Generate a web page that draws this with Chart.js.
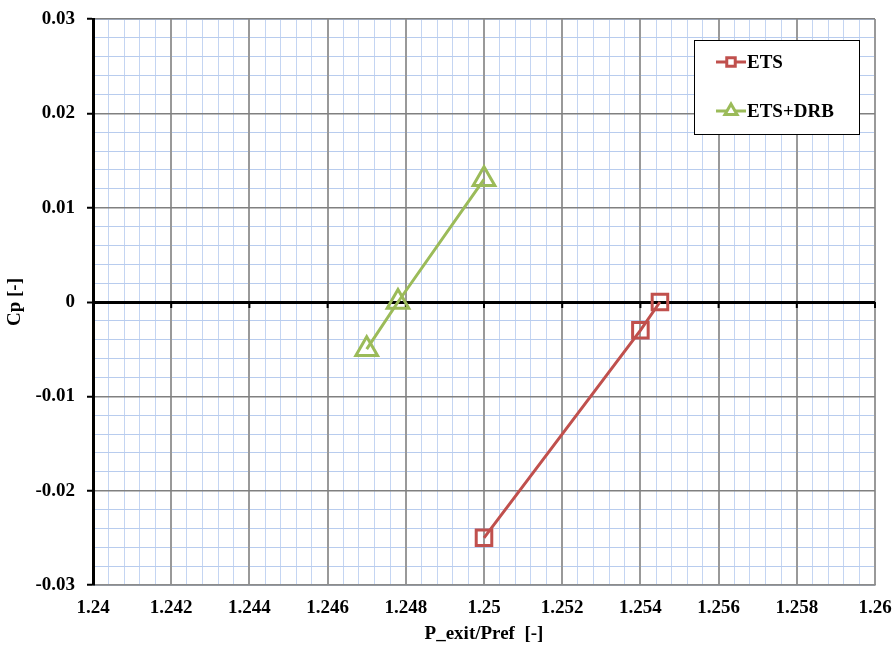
<!DOCTYPE html>
<html>
<head>
<meta charset="utf-8">
<script src="https://cdn.jsdelivr.net/npm/chart.js@4/dist/chart.umd.min.js"></script>
<style>
  html, body { margin: 0; padding: 0; background: #fff; }
  #wrap { width: 893px; height: 647px; }
</style>
</head>
<body>
<div id="wrap"><canvas id="c" width="893" height="647"></canvas></div>
<script>
// Pressure ratio vs. pressure coefficient
const etsX = [1.25, 1.254, 1.2545];
const etsCp = [-0.025, -0.003, 0.0];
const drbX = [1.247, 1.2478, 1.25];
const drbCp = [-0.005, 0.0, 0.013];

const seriesNames = ['ETS', 'ETS+DRB'];
const xMajorTicks = [1.24, 1.242, 1.244, 1.246, 1.248, 1.25, 1.252, 1.254, 1.256, 1.258, 1.26];
const yMajorTicks = [-0.03, -0.02, -0.01, 0, 0.01, 0.02, 0.03];
const xMinorStep = 0.0004;
const yMinorStep = 0.002;

const X_MIN = 1.24, X_MAX = 1.26, Y_MIN = -0.03, Y_MAX = 0.03;
const RED = '#C0504D';
const GREEN = '#9BBB59';
const FONT = 'Liberation Serif, Times New Roman, serif';

function fmt(v) { return String(Number(v.toFixed(4))); }
function minorTicks(min, max, step) {
  const out = [];
  const n = Math.round((max - min) / step);
  for (let i = 0; i <= n; i++) out.push({ value: min + i * step });
  return out;
}

const pairs = (xs, ys) => xs.map((x, i) => ({ x, y: ys[i] }));

// Small tick marks hanging below the zero line at each major x value
const zeroTicks = {
  id: 'zeroTicks',
  beforeDatasetsDraw(chart) {
    const { ctx } = chart;
    const x = chart.scales.x, y = chart.scales.y;
    const y0 = y.getPixelForValue(0);
    ctx.save();
    ctx.strokeStyle = '#000';
    ctx.lineWidth = 2;
    xMajorTicks.forEach(v => {
      const px = x.getPixelForValue(v);
      ctx.beginPath();
      ctx.moveTo(px, y0);
      ctx.lineTo(px, y0 + 6);
      ctx.stroke();
    });
    ctx.restore();
  }
};

// Boxed legend inside the plot, upper right
const boxLegend = {
  id: 'boxLegend',
  afterDatasetsDraw(chart) {
    const { ctx } = chart;
    const bx = 694, by = 40, bw = 165, bh = 94;
    ctx.save();
    ctx.fillStyle = '#fff';
    ctx.fillRect(bx, by, bw, bh);
    ctx.strokeStyle = '#000';
    ctx.lineWidth = 1;
    ctx.strokeRect(bx + 0.5, by + 0.5, bw, bh);
    const items = [
      { label: seriesNames[0], color: RED, style: 'rect', y: by + 22 },
      { label: seriesNames[1], color: GREEN, style: 'triangle', y: by + 71 }
    ];
    items.forEach(it => {
      ctx.strokeStyle = it.color;
      ctx.lineWidth = 3;
      ctx.beginPath();
      ctx.moveTo(bx + 22, it.y);
      ctx.lineTo(bx + 52, it.y);
      ctx.stroke();
      ctx.fillStyle = '#fff';
      ctx.lineWidth = 3;
      Chart.helpers.drawPoint(ctx, { pointStyle: it.style, radius: it.style === 'rect' ? 6 : 7, borderWidth: 3 }, bx + 37, it.y);
      ctx.fillStyle = '#000';
      ctx.font = 'bold 19px ' + FONT;
      ctx.textBaseline = 'middle';
      ctx.textAlign = 'left';
      ctx.fillText(it.label, bx + 53, it.y + 1);
    });
    ctx.restore();
  }
};

new Chart(document.getElementById('c'), {
  type: 'scatter',
  data: {
    datasets: [
      {
        label: seriesNames[0],
        data: pairs(etsX, etsCp),
        showLine: true,
        borderColor: RED,
        borderWidth: 3,
        pointStyle: 'rect',
        pointRadius: 11,
        pointBorderWidth: 3,
        pointBorderColor: RED,
        pointBackgroundColor: 'rgba(0,0,0,0)',
        xAxisID: 'x', yAxisID: 'y'
      },
      {
        label: seriesNames[1],
        data: pairs(drbX, drbCp),
        showLine: true,
        borderColor: GREEN,
        borderWidth: 3,
        pointStyle: 'triangle',
        pointRadius: 12.5,
        pointBorderWidth: 3,
        pointBorderColor: GREEN,
        pointBackgroundColor: 'rgba(0,0,0,0)',
        xAxisID: 'x', yAxisID: 'y'
      }
    ]
  },
  options: {
    responsive: false,
    animation: false,
    events: [],
    layout: { padding: { top: 19, right: 18, left: 0, bottom: 0 } },
    plugins: { legend: { display: false }, tooltip: { enabled: false } },
    scales: {
      xm: {
        type: 'linear', position: 'bottom', min: X_MIN, max: X_MAX, z: -1,
        afterBuildTicks: s => { s.ticks = minorTicks(X_MIN, X_MAX, xMinorStep); },
        afterFit: s => { s.height = 0; s.paddingLeft = 0; s.paddingRight = 0; },
        ticks: { display: false },
        border: { display: false },
        grid: { color: '#C4D5F2', lineWidth: 1, drawTicks: false, borderDash: [1, 2] }
      },
      ym: {
        type: 'linear', position: 'left', min: Y_MIN, max: Y_MAX, z: -1,
        afterBuildTicks: s => { s.ticks = minorTicks(Y_MIN, Y_MAX, yMinorStep); },
        afterFit: s => { s.width = 0; s.paddingTop = 0; s.paddingBottom = 0; },
        ticks: { display: false },
        border: { display: false },
        grid: { color: '#B8CCEE', lineWidth: 1, drawTicks: false }
      },
      x: {
        type: 'linear', position: 'bottom', min: X_MIN, max: X_MAX, z: 0,
        afterBuildTicks: s => { s.ticks = xMajorTicks.map(v => ({ value: v })); },
        afterFit: s => { s.height = 62; s.paddingLeft = 0; s.paddingRight = 0; },
        ticks: {
          callback: v => fmt(v),
          font: { family: FONT, size: 19, weight: 'bold' },
          color: '#000', padding: 12, maxRotation: 0, autoSkip: false
        },
        border: { display: true, color: '#8C8C8C', width: 1.5 },
        grid: { color: '#999999', lineWidth: 2, drawTicks: false },
        title: {
          display: true, text: 'P_exit/Pref  [-]', color: '#000',
          font: { family: FONT, size: 19, weight: 'bold' },
          padding: { top: 0, bottom: 2 }
        }
      },
      y: {
        type: 'linear', position: 'left', min: Y_MIN, max: Y_MAX, z: 0,
        afterBuildTicks: s => { s.ticks = yMajorTicks.map(v => ({ value: v })); },
        afterFit: s => { s.width = 93; s.paddingTop = 0; s.paddingBottom = 0; },
        ticks: {
          callback: v => fmt(v),
          font: { family: FONT, size: 19, weight: 'bold' },
          color: '#000', padding: 12
        },
        border: { display: true, color: '#000', width: 3 },
        grid: {
          color: c => (c.tick && c.tick.value === 0) ? '#000' : '#808080',
          lineWidth: c => (c.tick && c.tick.value === 0) ? 3 : 1.5,
          tickColor: '#000', tickLength: 6, tickWidth: 2
        },
        title: {
          display: true, text: 'Cp [-]', color: '#000',
          font: { family: FONT, size: 19, weight: 'bold' },
          padding: { top: 4, bottom: 0 }
        }
      }
    }
  },
  plugins: [zeroTicks, boxLegend]
});
</script>
</body>
</html>
